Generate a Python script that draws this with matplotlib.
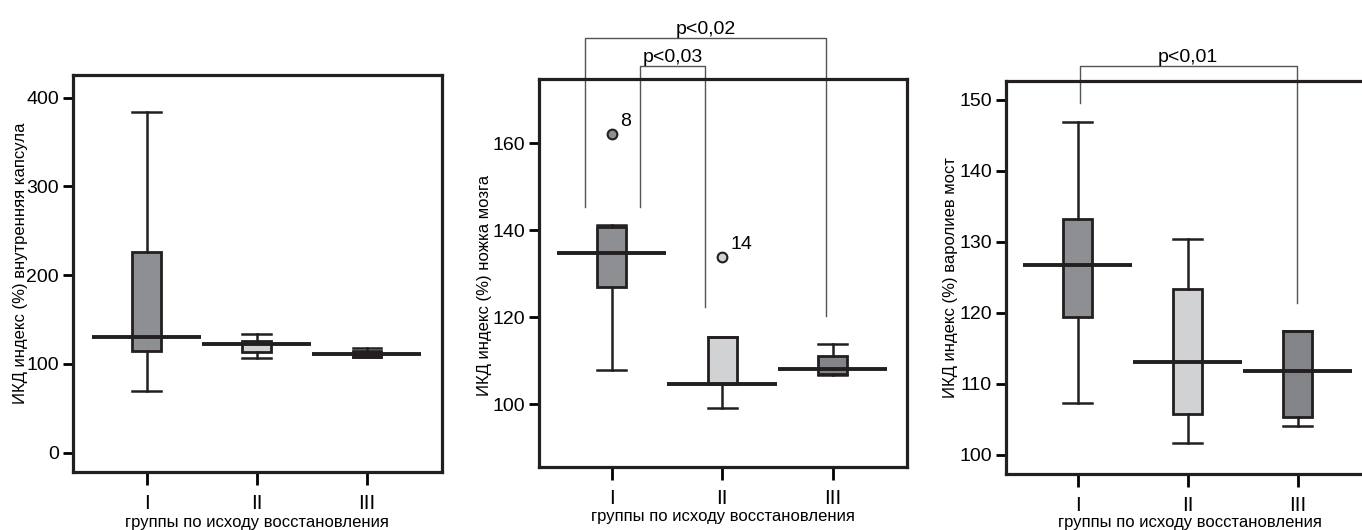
import matplotlib
matplotlib.use("Agg")
import matplotlib.pyplot as plt

plt.rcParams['font.family'] = ['Liberation Sans', 'DejaVu Sans']

W, H = 1362, 530
groups = ["I", "II", "III"]
xlabel = "группы по исходу восстановления"

# Panel 1: внутренняя капсула
p1_q1 = [114.6, 113.0, 108.2]
p1_med = [130.0, 122.0, 111.2]
p1_q3 = [225.8, 125.8, 114.6]
p1_lo = [69.5, 106.4, 108.2]
p1_hi = [383.5, 133.4, 118.3]
p1_fliers = [[], [], []]
p1_ticks = [0, 100, 200, 300, 400]
p1_ylabel = "ИКД индекс (%) внутренняя капсула"

# Panel 2: ножка мозга
p2_q1 = [126.9, 104.6, 106.9]
p2_med = [134.9, 104.6, 108.1]
p2_q3 = [140.7, 115.5, 111.1]
p2_lo = [108.0, 99.2, 106.7]
p2_hi = [141.2, 115.5, 114.0]
p2_fliers = [[162.1], [133.9], []]
p2_flier_labels = [["8"], ["14"], []]
p2_ticks = [100, 120, 140, 160]
p2_ylabel = "ИКД индекс (%) ножка мозга"

# Panel 3: варолиев мост
p3_q1 = [119.4, 105.7, 105.3]
p3_med = [126.7, 113.1, 111.8]
p3_q3 = [133.2, 123.4, 117.4]
p3_lo = [107.3, 101.7, 104.0]
p3_hi = [146.9, 130.4, 117.4]
p3_fliers = [[], [], []]
p3_ticks = [100, 110, 120, 130, 140, 150]
p3_ylabel = "ИКД индекс (%) варолиев мост"

# significance brackets: (x_left, x_right, y_top, y_left_end, y_right_end, label)
p2_brackets = [(0.758, 2.937, 184.3, 145.4, 120.3, "p<0,02"),
               (1.259, 1.844, 177.8, 145.4, 122.4, "p<0,03")]
p3_brackets = [(1.02, 2.99, 154.8, 149.6, 121.4, "p<0,01")]

DARK = "#8e8f93"
LIGHT = "#d1d2d4"
EDGE = "#231f20"

p1_colors = [DARK, LIGHT, EDGE]
p2_colors = [DARK, LIGHT, "#838488"]
p3_colors = [DARK, LIGHT, "#838488"]

fig = plt.figure(figsize=(W / 100, H / 100), dpi=100)


def px_axes(left, top, right, bottom):
    return fig.add_axes([left / W, (H - bottom) / H, (right - left) / W, (bottom - top) / H])


def draw_panel(ax, q1, med, q3, lo, hi, fliers, colors, ticks, ylim, xlim, ylabel,
               ylabel_pos, flier_labels=None, brackets=(), xlabel_y=None):
    stats = []
    for i in range(3):
        stats.append(dict(q1=q1[i], med=med[i], q3=q3[i], whislo=lo[i], whishi=hi[i],
                          fliers=fliers[i]))
    pos = [1, 2, 3]
    bp = ax.bxp(stats, positions=pos, widths=0.26, capwidths=0.26, patch_artist=True,
                showfliers=False,
                boxprops=dict(edgecolor=EDGE, linewidth=2.0),
                whiskerprops=dict(color=EDGE, linewidth=1.8),
                capprops=dict(color=EDGE, linewidth=1.8),
                medianprops=dict(linewidth=0))
    for patch, c in zip(bp['boxes'], colors):
        patch.set_facecolor(c)
    for i in range(3):
        ax.hlines(med[i], pos[i] - 0.495, pos[i] + 0.495, color=EDGE, linewidth=2.8, zorder=4)
        for j, f in enumerate(fliers[i]):
            ax.plot(pos[i], f, 'o', ms=7, mfc=colors[i], mec=EDGE, mew=1.5, zorder=5)
            if flier_labels:
                ax.annotate(flier_labels[i][j], (pos[i], f), xytext=(6, 3),
                            textcoords='offset points', fontsize=14, ha='left', va='bottom')
    for xl, xr, yt, yle, yre, lab in brackets:
        ax.plot([xl, xl, xr, xr], [yle, yt, yt, yre], color="#555555", linewidth=1.0,
                clip_on=False, zorder=1)
        ax.text((xl + xr) / 2, yt, lab, ha='center', va='bottom', fontsize=14)
    ax.set_xlim(*xlim)
    ax.set_ylim(*ylim)
    ax.set_yticks(ticks)
    ax.set_xticks(pos)
    ax.set_xticklabels(groups)
    ax.tick_params(axis='y', direction='out', length=7, width=2, labelsize=14, pad=3)
    ax.tick_params(axis='x', direction='out', length=9, width=2, labelsize=15, pad=7)
    for s in ax.spines.values():
        s.set_linewidth(2.3)
        s.set_color(EDGE)
    ax.set_ylabel(ylabel, fontsize=12)
    ax.yaxis.set_label_coords(*ylabel_pos)
    ax.set_xlabel(xlabel, fontsize=12)
    ax.xaxis.set_label_coords(0.5, xlabel_y)


ax1 = px_axes(73, 75, 441.7, 472)
draw_panel(ax1, p1_q1, p1_med, p1_q3, p1_lo, p1_hi, p1_fliers, p1_colors, p1_ticks,
           (-21.7, 425.6), (0.33, 3.68), p1_ylabel, (-0.122, 0.526), xlabel_y=-0.108)

ax2 = px_axes(539.3, 79.3, 906.7, 466.7)
draw_panel(ax2, p2_q1, p2_med, p2_q3, p2_lo, p2_hi, p2_fliers, p2_colors, p2_ticks,
           (85.7, 174.7), (0.345, 3.67), p2_ylabel, (-0.129, 0.469),
           flier_labels=p2_flier_labels, brackets=p2_brackets, xlabel_y=-0.109)

ax3 = px_axes(1006, 80.7, 1373, 474)
draw_panel(ax3, p3_q1, p3_med, p3_q3, p3_lo, p3_hi, p3_fliers, p3_colors, p3_ticks,
           (97.3, 152.7), (0.348, 3.684), p3_ylabel, (-0.131, 0.5),
           brackets=p3_brackets, xlabel_y=-0.104)

fig.savefig("out.png", dpi=100)
